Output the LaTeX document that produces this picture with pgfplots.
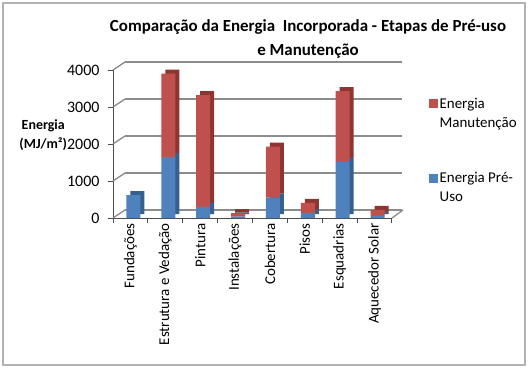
\documentclass[border=0pt]{standalone}
\usepackage{pgfplots}
\pgfplotsset{compat=1.18}
\usepackage{fontspec}
\setmainfont{Carlito}
\definecolor{exred}{HTML}{C0504D}
\definecolor{exblue}{HTML}{4F81BD}
\definecolor{exreddk}{HTML}{8E3532}
\definecolor{exbluedk}{HTML}{35608F}
\definecolor{gridc}{HTML}{8C8C8C}
\pgfplotsset{
  common/.style={
    scale only axis, width=279bp, height=148bp,
    ybar stacked, bar width=14bp, bar shift=3bp,
    xmin=-0.5, xmax=7.5, ymin=0, ymax=4000,
    ytick={0,1000,...,4000},
    clip=false,
  },
  hidden/.style={common, axis lines=none, ticks=none},
}
\begin{document}
\begin{tikzpicture}
\useasboundingbox (0bp,0bp) rectangle (528bp,-368bp);
\draw[gray!60, line width=1.2bp, fill=white] (3bp,-3bp) rectangle (525bp,-365bp);
\node[align=center, font=\fontsize{17}{25}\selectfont\bfseries] at (308bp,-39bp) {Comparação da Energia\ \ Incorporada - Etapas de Pré-uso\\e Manutenção};
% back wall with gridlines
\begin{axis}[common, at={(125bp,-210bp)}, anchor=south west, width=277bp,
  axis line style={draw=none}, ymajorgrids, grid style={gridc, line width=1.3bp},
  ytick={0,1000,...,4000}, yticklabels={}, xtick=\empty, major tick length=0pt]
\addplot[draw=none, fill=none, forget plot] coordinates {(0,0)};
\end{axis}
% bar depth (side and top faces)
\begin{axis}[hidden, at={(117bp,-214bp)}, anchor=south west]
\addplot[fill=exbluedk, draw=none] coordinates {(0,620) (1,1650) (2,300) (3,40) (4,550) (5,140) (6,1510) (7,60)};
\addplot[fill=exreddk, draw=none] coordinates {(0,0) (1,2250) (2,3020) (3,90) (4,1380) (5,270) (6,1920) (7,160)};
\end{axis}
% front faces, axes, labels, legend
\begin{axis}[common,
  at={(113bp,-218bp)}, anchor=south west,
  xtick={-0.5,0.5,...,7.5},
  x tick label as interval,
  xticklabels={Fundações,Estrutura e Vedação,Pintura,Instalações,Cobertura,Pisos,Esquadrias,Aquecedor Solar},
  x tick label style={rotate=90, anchor=east, font=\fontsize{15}{17}\selectfont, xshift=3bp},
  y tick label style={font=\fontsize{16}{18}\selectfont, xshift=-5bp},
  /pgf/number format/assume math mode=true,
  /pgf/number format/1000 sep={},
  axis x line*=bottom, axis y line*=left,
  axis line style={gray!60!black, -, line width=1bp},
  tick align=outside, major tick length=5bp,
  tick style={gray!60!black, line width=1bp},
  ylabel={\textbf{Energia}\\\textbf{(MJ/m²)}},
  ylabel style={rotate=-90, align=center, at={(axis description cs:-0.25,0.56)}, anchor=center, font=\fontsize{14}{20}\selectfont},
  legend style={at={(axis description cs:1.12,0.84)}, anchor=north west, draw=none, fill=none,
     font=\fontsize{15}{19}\selectfont, row sep=40bp, cells={align=left, anchor=west}},
  reverse legend,
  legend image code/.code={\fill[#1] (0bp,5bp) rectangle (9bp,14bp); \path (0bp,-14bp);},
]
\foreach \v in {0,1000,2000,3000,4000} {
  \edef\tmp{\noexpand\draw[gridc, line width=1.3bp] (axis cs:-0.5,\v) -- ++(12bp,8bp);}\tmp
}
\draw[gridc, line width=1.3bp] (axis cs:7.5,0) -- ++(11bp,8bp);
\addplot[fill=exblue, draw=none] coordinates {(0,620) (1,1650) (2,300) (3,40) (4,550) (5,140) (6,1510) (7,60)};
\addlegendentry{Energia Pré-\\Uso}
\addplot[fill=exred, draw=none] coordinates {(0,0) (1,2250) (2,3020) (3,90) (4,1380) (5,270) (6,1920) (7,160)};
\addlegendentry{Energia\\Manutenção}
\end{axis}
\end{tikzpicture}
\end{document}
